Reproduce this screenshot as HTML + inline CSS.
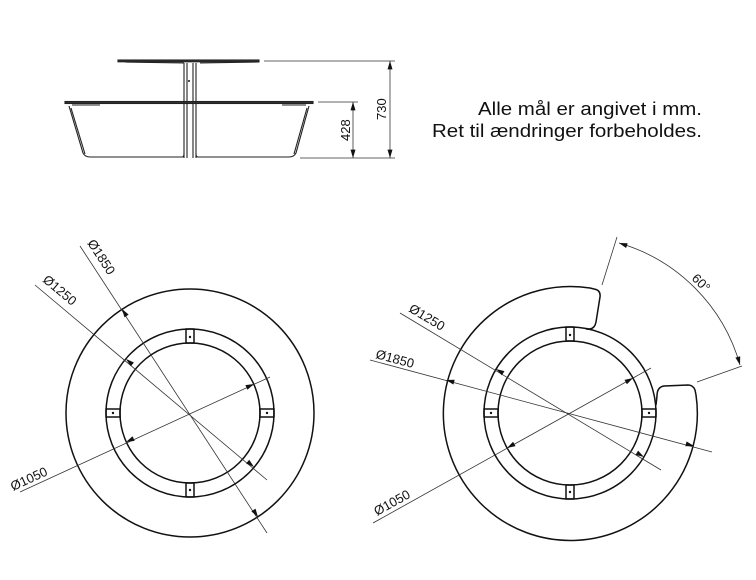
<!DOCTYPE html>
<html><head><meta charset="utf-8"><style>
html,body{margin:0;padding:0;background:#fff;}
svg{display:block;}
text{font-family:"Liberation Sans",sans-serif;fill:#111;}
</style></head><body>
<svg width="756" height="580" viewBox="0 0 756 580" xmlns="http://www.w3.org/2000/svg">
<defs>
<marker id="a" viewBox="0 0 10 6" refX="10" refY="3" markerWidth="9" markerHeight="5" orient="auto" markerUnits="userSpaceOnUse"><path d="M0,0 L10,3 L0,6 z" fill="#111"/></marker>
</defs>
<!-- side view -->
<g stroke="#222" fill="none" stroke-width="1.1">
<rect x="118" y="60" width="141" height="1.8" fill="#333"/>
<path d="M125,62 L184,63 M259,62 L200,63"/>
<rect x="65" y="101.5" width="248" height="2" fill="#333"/>
<path d="M72,105 L100,105 M282,105 L306,105"/>
<path d="M184,63 L184,158 M187,63 L187,158 M193,63 L193,158 M196,63 L196,158"/>
<path d="M69,106 L83,153 Q85,157 90,157 L182,157 Q184,157 184,154"/>
<path d="M71,108 L85,154"/>
<path d="M309,106 L296,153 Q294,157 289,157 L198,157 Q196,157 196,154"/>
<path d="M307,108 L294,154"/>
</g>
<circle cx="189" cy="81" r="1" fill="#111"/>
<g stroke="#333" stroke-width="0.8" fill="none">
<path d="M264,61 L395,61 M300,158 L395,158 M318,102 L358,102"/>
<line x1="390" y1="61" x2="390" y2="158"/>
<line x1="353" y1="102" x2="353" y2="158"/>
<line x1="390" y1="80" x2="390" y2="158" stroke="none" marker-end="url(#a)"/>
<line x1="390" y1="80" x2="390" y2="61" stroke="none" marker-end="url(#a)"/>
<line x1="353" y1="130" x2="353" y2="102" stroke="none" marker-end="url(#a)"/>
<line x1="353" y1="130" x2="353" y2="158" stroke="none" marker-end="url(#a)"/>
</g>
<text x="0" y="0" font-size="13" transform="translate(386,120) rotate(-90)">730</text>
<text x="0" y="0" font-size="13" transform="translate(350,141) rotate(-90)">428</text>
<text x="478" y="115" font-size="18" textLength="224" lengthAdjust="spacingAndGlyphs">Alle mål er angivet i mm.</text>
<text x="432" y="137" font-size="18" textLength="270" lengthAdjust="spacingAndGlyphs">Ret til ændringer forbeholdes.</text>

<!-- left plan -->
<g stroke="#111" stroke-width="1.5" fill="none">
<circle cx="190" cy="413" r="124"/>
<circle cx="190" cy="413" r="84"/>
<circle cx="190" cy="413" r="70"/>
<rect x="186" y="329" width="8" height="14"/>
<rect x="186" y="483" width="8" height="14"/>
<rect x="106" y="409" width="14" height="8"/>
<rect x="260" y="409" width="14" height="8"/>
</g>
<g fill="#111"><circle cx="190" cy="337" r="1.2"/><circle cx="190" cy="490" r="1.2"/><circle cx="113" cy="413" r="1.2"/><circle cx="267" cy="413" r="1.2"/></g>
<g stroke="#333" stroke-width="0.8" fill="none">
<line x1="80" y1="246" x2="267" y2="533"/>
<line x1="35" y1="285" x2="267" y2="480"/>
<line x1="20" y1="492" x2="270" y2="377"/>
</g>
<g stroke="none" fill="none">
<line x1="190" y1="413" x2="122" y2="309" marker-end="url(#a)"/>
<line x1="190" y1="413" x2="258" y2="517" marker-end="url(#a)"/>
<line x1="190" y1="413" x2="126" y2="359" marker-end="url(#a)"/>
<line x1="190" y1="413" x2="254" y2="467" marker-end="url(#a)"/>
<line x1="190" y1="413" x2="254" y2="384" marker-end="url(#a)"/>
<line x1="190" y1="413" x2="126" y2="442" marker-end="url(#a)"/>
</g>
<text font-size="13" transform="translate(87,243) rotate(57)">Ø1850</text>
<text font-size="13" transform="translate(42,281) rotate(40)">Ø1250</text>
<text font-size="13" transform="translate(13,491) rotate(-24.7)">Ø1050</text>

<!-- right plan -->
<g stroke="#111" stroke-width="1.5" fill="none">
<path d="M586,329 L590,329 Q595,328 596,322 L600,297 Q601,290 594,289 L590,288 A127,127 0 1 0 696,395 L695,390 Q693,385 688,385 L664,386 Q657,387 657,396 L656,405"/>
<circle cx="570" cy="413" r="86"/>
<circle cx="570" cy="413" r="72"/>
<rect x="566" y="327" width="8" height="14"/>
<rect x="566" y="485" width="8" height="14"/>
<rect x="484" y="409" width="14" height="8"/>
<rect x="642" y="409" width="14" height="8"/>
</g>
<g fill="#111"><circle cx="570" cy="335" r="1.2"/><circle cx="570" cy="492" r="1.2"/><circle cx="491" cy="413" r="1.2"/><circle cx="649" cy="413" r="1.2"/></g>
<g stroke="#333" stroke-width="0.8" fill="none">
<line x1="400" y1="313" x2="661" y2="470"/>
<line x1="370" y1="360" x2="712" y2="452"/>
<line x1="373" y1="523" x2="651" y2="368"/>
<line x1="602" y1="285" x2="617" y2="237"/>
<line x1="697" y1="382" x2="742" y2="366"/>
<path d="M619,243 A177,177 0 0 1 740,365"/>
</g>
<g stroke="none" fill="none">
<line x1="570" y1="413" x2="496" y2="369" marker-end="url(#a)"/>
<line x1="570" y1="413" x2="644" y2="457" marker-end="url(#a)"/>
<line x1="570" y1="413" x2="446" y2="380" marker-end="url(#a)"/>
<line x1="570" y1="413" x2="694" y2="446" marker-end="url(#a)"/>
<line x1="570" y1="413" x2="633" y2="378" marker-end="url(#a)"/>
<line x1="570" y1="413" x2="507" y2="448" marker-end="url(#a)"/>
<line x1="631" y1="247" x2="619" y2="243" marker-end="url(#a)"/>
<line x1="737" y1="354" x2="740" y2="365" marker-end="url(#a)"/>
</g>
<text font-size="13" transform="translate(408,311) rotate(31)">Ø1250</text>
<text font-size="13" transform="translate(375,358) rotate(15)">Ø1850</text>
<text font-size="13" transform="translate(377,516) rotate(-29)">Ø1050</text>
<text font-size="13" transform="translate(691,279) rotate(45)">60°</text>
</svg>
</body></html>
